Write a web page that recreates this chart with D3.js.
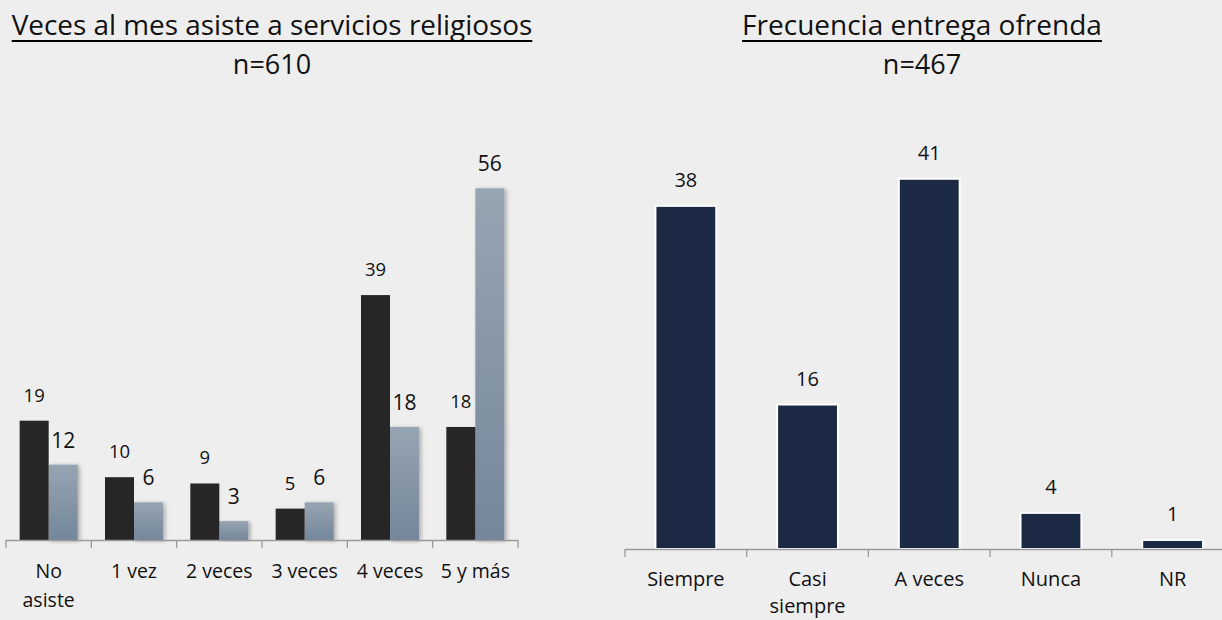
<!DOCTYPE html>
<html>
<head>
<meta charset="utf-8">
<script src="https://cdn.jsdelivr.net/npm/d3@7"></script>
<style>
  html, body { margin: 0; padding: 0; background: #eeeeee; }
  svg { display: block; font-family: "Open Sans", "Noto Sans", sans-serif; }
</style>
</head>
<body>
<svg id="chart" width="1222" height="620"></svg>
<script>
// left chart data
const asistCategories = ["No asiste", "1 vez", "2 veces", "3 veces", "4 veces", "5 y más"];
const asistSeriesA = [19, 10, 9, 5, 39, 18];
const asistSeriesB = [12, 6, 3, 6, 18, 56];
const asistTitle = "Veces al mes asiste a servicios religiosos";
const asistN = "n=610";

// right chart data
const ofrendaCategories = ["Siempre", "Casi siempre", "A veces", "Nunca", "NR"];
const ofrendaValues = [38, 16, 41, 4, 1];
const ofrendaTitle = "Frecuencia entrega ofrenda";
const ofrendaN = "n=467";

const svg = d3.select("#chart");
svg.append("rect").attr("width", 1222).attr("height", 620).attr("fill", "#eeeeee");

const defs = svg.append("defs");
let grad = defs.append("linearGradient").attr("id", "lightGrad")
    .attr("x1", 0).attr("y1", 0).attr("x2", 0).attr("y2", 1);
grad.append("stop").attr("offset", "0%").attr("stop-color", "#97a4b2");
grad.append("stop").attr("offset", "100%").attr("stop-color", "#74879a");
defs.append("filter").attr("id", "shadow")
    .attr("x", "-20%").attr("y", "-5%").attr("width", "160%").attr("height", "115%")
    .append("feDropShadow")
    .attr("dx", 2).attr("dy", 1).attr("stdDeviation", 2)
    .attr("flood-color", "#000").attr("flood-opacity", 0.3);

// wrap axis labels to the band width
function wrap(text, width, lineHeight) {
    text.each(function() {
        let t = d3.select(this);
        let words = t.text().split(/\s+/);
        let x = t.attr("x"), y = +t.attr("y");
        t.text(null);
        let line = [], lineNo = 0;
        let tspan = t.append("tspan").attr("x", x).attr("y", y);
        words.forEach(w => {
            line.push(w);
            tspan.text(line.join(" "));
            if (tspan.node().getComputedTextLength() > width && line.length > 1) {
                line.pop();
                tspan.text(line.join(" "));
                line = [w];
                lineNo++;
                tspan = t.append("tspan").attr("x", x).attr("y", y + lineNo * lineHeight).text(w);
            }
        });
    });
}

// title with underline, sized to a target width
function drawTitle(label, n, cx, targetWidth) {
    let t = svg.append("text")
        .attr("x", cx).attr("y", 35)
        .attr("text-anchor", "middle")
        .attr("font-size", 26)
        .attr("fill", "#111")
        .text(label);
    let w = t.node().getComputedTextLength();
    t.attr("font-size", 26 * targetWidth / w);
    w = t.node().getComputedTextLength();
    svg.append("line")
        .attr("x1", cx - w / 2).attr("x2", cx + w / 2)
        .attr("y1", 41).attr("y2", 41)
        .attr("stroke", "#000").attr("stroke-width", 2.2);
    svg.append("text")
        .attr("x", cx).attr("y", 74)
        .attr("text-anchor", "middle")
        .attr("font-size", 27)
        .attr("fill", "#111")
        .text(n);
}

function drawAxis(x, baseline, n, x1end) {
    let r = x.range();
    svg.append("line")
        .attr("x1", r[0]).attr("x2", Math.min(r[1], x1end))
        .attr("y1", baseline + 0.5).attr("y2", baseline + 0.5)
        .attr("stroke", "#9a9a9a").attr("stroke-width", 1.3);
    svg.append("g").selectAll("line")
        .data(d3.range(n + 1))
        .enter().append("line")
        .attr("x1", i => r[0] + i * x.step())
        .attr("x2", i => r[0] + i * x.step())
        .attr("y1", baseline).attr("y2", baseline + 8)
        .attr("stroke", "#9a9a9a").attr("stroke-width", 1.3);
}

// ---------- left chart ----------
drawTitle(asistTitle, asistN, 272, 521);

let baseL = 540;
let x0 = d3.scaleBand().domain(asistCategories).range([6, 518])
    .paddingInner(0.32).paddingOuter(0.16);
let x1 = d3.scaleBand().domain(["a", "b"]).range([0, x0.bandwidth()]);
let yL = d3.scaleLinear().domain([0, 60]).range([baseL, baseL - 60 * 6.28]);

let groups = svg.append("g").selectAll("g")
    .data(asistCategories)
    .enter().append("g")
    .attr("transform", d => `translate(${x0(d)},0)`);

groups.append("rect")
    .attr("x", x1("b"))
    .attr("y", (d, i) => yL(asistSeriesB[i]))
    .attr("width", x1.bandwidth())
    .attr("height", (d, i) => baseL - yL(asistSeriesB[i]))
    .attr("fill", "url(#lightGrad)")
    .attr("filter", "url(#shadow)");
groups.append("rect")
    .attr("x", x1("a"))
    .attr("y", (d, i) => yL(asistSeriesA[i]))
    .attr("width", x1.bandwidth())
    .attr("height", (d, i) => baseL - yL(asistSeriesA[i]))
    .attr("fill", "#262626");

groups.append("text")
    .attr("x", x1("a") + x1.bandwidth() / 2)
    .attr("y", (d, i) => yL(asistSeriesA[i]) - 19)
    .attr("text-anchor", "middle")
    .attr("font-size", 18.5)
    .attr("fill", "#111")
    .text((d, i) => asistSeriesA[i]);
groups.append("text")
    .attr("x", x1("b") + x1.bandwidth() / 2)
    .attr("y", (d, i) => yL(asistSeriesB[i]) - 17)
    .attr("text-anchor", "middle")
    .attr("font-size", 21)
    .attr("fill", "#111")
    .text((d, i) => asistSeriesB[i]);

drawAxis(x0, baseL, asistCategories.length, 1222);

svg.append("g").selectAll("text")
    .data(asistCategories)
    .enter().append("text")
    .attr("x", d => x0(d) + x0.bandwidth() / 2)
    .attr("y", 578)
    .attr("text-anchor", "middle")
    .attr("font-size", 19.5)
    .attr("fill", "#111")
    .text(d => d)
    .call(wrap, x0.step() - 2, 29);

// ---------- right chart ----------
drawTitle(ofrendaTitle, ofrendaN, 922, 360);

let baseR = 549;
let xR = d3.scaleBand().domain(ofrendaCategories).range([625, 625 + 5 * 121.7])
    .paddingInner(0.5).paddingOuter(0.25);
let yR = d3.scaleLinear().domain([0, 45]).range([baseR, baseR - 45 * 9.03]);

svg.append("g").selectAll("rect")
    .data(ofrendaCategories)
    .enter().append("rect")
    .attr("x", d => xR(d))
    .attr("y", (d, i) => yR(ofrendaValues[i]))
    .attr("width", xR.bandwidth())
    .attr("height", (d, i) => baseR - yR(ofrendaValues[i]))
    .attr("fill", "#1c2944")
    .attr("stroke", "#ffffff")
    .attr("stroke-width", 2);

svg.append("g").selectAll("text")
    .data(ofrendaCategories)
    .enter().append("text")
    .attr("x", d => xR(d) + xR.bandwidth() / 2)
    .attr("y", (d, i) => yR(ofrendaValues[i]) - 19)
    .attr("text-anchor", "middle")
    .attr("font-size", 20)
    .attr("fill", "#111")
    .text((d, i) => ofrendaValues[i]);

drawAxis(xR, baseR, ofrendaCategories.length, 1222);

svg.append("g").selectAll("text")
    .data(ofrendaCategories)
    .enter().append("text")
    .attr("x", d => xR(d) + xR.bandwidth() / 2)
    .attr("y", 586)
    .attr("text-anchor", "middle")
    .attr("font-size", 20)
    .attr("fill", "#111")
    .text(d => d)
    .call(wrap, xR.step() - 4, 27);
</script>
</body>
</html>
